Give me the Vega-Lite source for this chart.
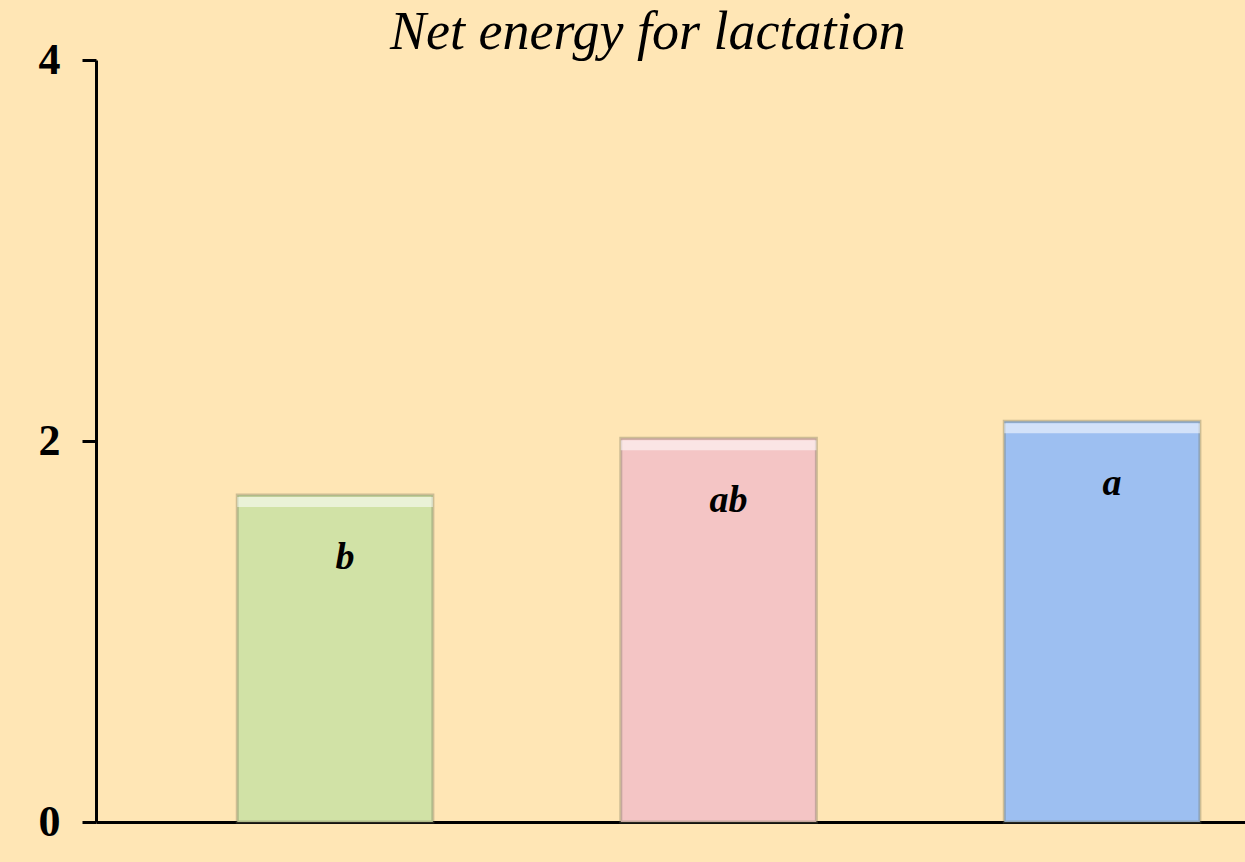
{
  "$schema": "https://vega.github.io/schema/vega-lite/v6.json",
  "width": 1149,
  "height": 762,
  "autosize": {"type": "none"},
  "padding": {"left": 96, "top": 60, "right": 0, "bottom": 40},
  "background": "#FFE6B5",
  "title": {
    "text": "Net energy for lactation",
    "font": "Liberation Serif",
    "fontStyle": "italic",
    "fontWeight": "normal",
    "fontSize": 54,
    "color": "#000000",
    "anchor": "start",
    "frame": "group",
    "dx": 294,
    "offset": 0,
    "dy": 65,
    "baseline": "alphabetic"
  },
  "config": {"view": {"stroke": null}},
  "data": {
    "values": [
      {"group": "Group 1", "value": 1.716, "letter": "b", "color": "green"},
      {"group": "Group 2", "value": 2.015, "letter": "ab", "color": "pink"},
      {"group": "Group 3", "value": 2.104, "letter": "a", "color": "blue"}
    ]
  },
  "encoding": {
    "x": {
      "field": "group",
      "type": "nominal",
      "sort": null,
      "scale": {"paddingInner": 0.49, "paddingOuter": 0.243, "align": 0.758},
      "axis": {
        "title": null,
        "labels": false,
        "ticks": false,
        "domainColor": "#000000",
        "domainWidth": 3
      }
    }
  },
  "layer": [
    {
      "mark": {"type": "bar", "stroke": "#6f6f55", "strokeWidth": 3, "strokeOpacity": 0.35},
      "encoding": {
        "y": {
          "field": "value",
          "type": "quantitative",
          "scale": {"domain": [0, 4], "nice": false},
          "axis": {
            "title": null,
            "values": [0, 2, 4],
            "format": "d",
            "grid": false,
            "domainColor": "#000000",
            "domainWidth": 3,
            "tickColor": "#000000",
            "tickWidth": 3,
            "tickSize": 14,
            "labelFont": "Liberation Serif",
            "labelFontWeight": "bold",
            "labelFontSize": 44,
            "labelColor": "#000000",
            "labelPadding": 22
          }
        },
        "color": {
          "field": "color",
          "type": "nominal",
          "scale": {"domain": ["green", "pink", "blue"], "range": ["#D1E2A6", "#F4C5C5", "#9DBFF1"]},
          "legend": null
        }
      }
    },
    {
      "mark": {"type": "tick", "color": "#FFFFFF", "opacity": 0.55, "thickness": 10, "yOffset": 7, "bandSize": 188},
      "encoding": {
        "y": {"field": "value", "type": "quantitative"}
      }
    },
    {
      "mark": {
        "type": "text",
        "font": "Liberation Serif",
        "fontStyle": "italic",
        "fontWeight": "bold",
        "fontSize": 38,
        "baseline": "alphabetic",
        "dy": 74,
        "dx": 10,
        "color": "#000000"
      },
      "encoding": {
        "y": {"field": "value", "type": "quantitative"},
        "text": {"field": "letter"}
      }
    }
  ]
}
